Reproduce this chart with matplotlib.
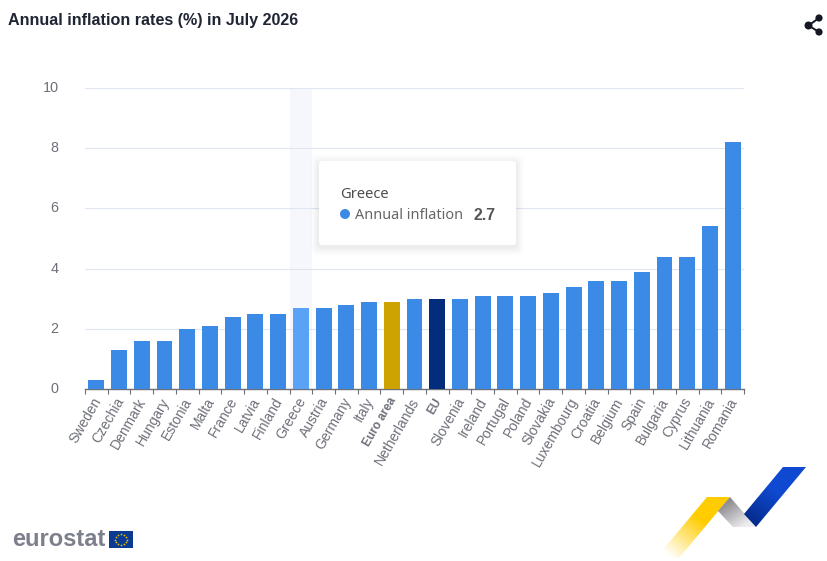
import matplotlib
matplotlib.use('Agg')
import matplotlib.pyplot as plt
import matplotlib.transforms as mtrans
import numpy as np
from matplotlib.patches import FancyBboxPatch, Polygon, Rectangle, Circle

plt.rcParams['font.family'] = ['Liberation Sans', 'DejaVu Sans']

# data
countries = ['Sweden', 'Czechia', 'Denmark', 'Hungary', 'Estonia', 'Malta', 'France', 'Latvia',
             'Finland', 'Greece', 'Austria', 'Germany', 'Italy', 'Euro area', 'Netherlands', 'EU',
             'Slovenia', 'Ireland', 'Portugal', 'Poland', 'Slovakia', 'Luxembourg', 'Croatia',
             'Belgium', 'Spain', 'Bulgaria', 'Cyprus', 'Lithuania', 'Romania']
inflation = [0.3, 1.3, 1.6, 1.6, 2.0, 2.1, 2.4, 2.5, 2.5, 2.7, 2.7, 2.8, 2.9, 2.9, 3.0, 3.0,
             3.0, 3.1, 3.1, 3.1, 3.2, 3.4, 3.6, 3.6, 3.9, 4.4, 4.4, 5.4, 8.2]
y_ticks = [0, 2, 4, 6, 8, 10]

BLUE = '#3a8ae6'
colors = {'Greece': '#5aa2f5', 'Euro area': '#cca300', 'EU': '#032c7c'}
TXT = '#6e7079'

W, H = 827, 561
fig = plt.figure(figsize=(W / 100, H / 100), dpi=100, facecolor='white')

# main chart, placed in pixels
L, R, T, B = 85, 744, 88, 389
ax = fig.add_axes([L / W, 1 - B / H, (R - L) / W, (B - T) / H])
x = np.arange(len(countries))
bar_colors = [colors.get(c, BLUE) for c in countries]

ax.axvspan(x[countries.index('Greece')] - 0.5, x[countries.index('Greece')] + 0.5,
           color='#f5f7fc', zorder=0, lw=0)
ax.bar(x, inflation, width=0.7, color=bar_colors, zorder=3)

ax.set_xlim(-0.5, len(countries) - 0.5)
ax.set_ylim(0, 10)
ax.set_yticks(y_ticks)
ax.grid(axis='y', color='#e0e6f1', lw=0.8, zorder=1)
ax.set_axisbelow(True)
for s in ['top', 'left', 'right']:
    ax.spines[s].set_visible(False)
ax.spines['bottom'].set_color('#6e7079')
ax.spines['bottom'].set_linewidth(1.0)
ax.tick_params(axis='y', length=0, labelsize=10.4, labelcolor=TXT, pad=19)
# nudge the y labels up a little
for lbl in ax.get_yticklabels():
    lbl.set_transform(lbl.get_transform() + mtrans.Affine2D().translate(0, 1.5))

# ticks sit between the bars
ax.set_xticks(np.arange(len(countries) + 1) - 0.5)
ax.tick_params(axis='x', length=3.6, width=0.8, color='#6e7079', labelbottom=False)
for xi, name in zip(x, countries):
    bold = name in ('Euro area', 'EU')
    ax.annotate(name, (xi, 0), xycoords=('data', 'axes fraction'), xytext=(1, -7),
                textcoords='offset points', rotation=60, rotation_mode='anchor',
                ha='right', va='center', fontsize=10.0 if not bold else 8.6,
                fontweight='bold' if bold else 'normal', color=TXT)

# overlay in pixel coordinates for title, tooltip, logos
ov = fig.add_axes([0, 0, 1, 1], zorder=5)
ov.set_xlim(0, W)
ov.set_ylim(H, 0)
ov.axis('off')
ov.patch.set_alpha(0)

ov.text(8, 20, 'Annual inflation rates (%) in July 2026', fontsize=11.65, fontweight='bold',
        color='#1f2533', va='center', ha='left')

# share icon
for cx, cy, r in [(808.5, 25.5, 4), (819, 18, 3.6), (819, 32, 3.6)]:
    ov.add_patch(Circle((cx, cy), r, color='#141824', lw=0))
ov.plot([819, 808.5, 819], [18, 25.5, 32], color='#141824', lw=1.4)

# tooltip
for off, a in [(8, 0.012), (6, 0.015), (4, 0.02), (2, 0.025)]:
    ov.add_patch(FancyBboxPatch((319 - off, 161 - off + 2), 197 + 2 * off, 84 + 2 * off,
                                boxstyle='round,pad=0,rounding_size=6', fc='black', ec='none', alpha=a))
ov.add_patch(FancyBboxPatch((319, 161), 197, 84, boxstyle='round,pad=0,rounding_size=3',
                            fc='white', ec='none'))
ov.text(340, 194, 'Greece', fontsize=10.6, color='#4d4d4d', va='center', family='Noto Sans')
ov.add_patch(Circle((345, 214), 5, color=BLUE, lw=0))
ov.text(355, 215, 'Annual inflation', fontsize=10.4, color='#666666', va='center', family='Noto Sans')
ov.text(473, 215, '2.7', fontsize=11.4, color='#555555', va='center', fontweight='bold',
        family='Liberation Sans')

# eurostat wordmark and flag
ov.text(12, 540, 'eurostat', fontsize=17, fontweight='bold', color='#7d808c', va='center', ha='left',
        family='Liberation Sans')
ov.add_patch(Rectangle((109, 531), 24, 17, fc='#0a3a94', ec='none'))
ang = np.arange(12) * np.pi / 6
ov.scatter(121 + 5.6 * np.cos(ang), 539.5 + 5.6 * np.sin(ang), s=1.5, color='#f2c800', lw=0)


def gradient_poly(pts, c0, c1, p0, p1):
    # fill a polygon with a linear gradient running from p0 to p1
    gx, gy = np.meshgrid(np.linspace(640, 827, 374), np.linspace(450, 561, 222))
    d = np.array(p1, float) - np.array(p0, float)
    t = np.clip(((gx - p0[0]) * d[0] + (gy - p0[1]) * d[1]) / (d @ d), 0, 1)[..., None]
    img = np.array(c0)[None, None, :] * (1 - t) + np.array(c1)[None, None, :] * t
    im = ov.imshow(img, extent=(640, 827, 561, 450), origin='upper', aspect='auto',
                   interpolation='bilinear', zorder=2)
    poly = Polygon(pts, transform=ov.transData, fc='none', ec='none')
    ov.add_patch(poly)
    im.set_clip_path(poly)


# corner logo ribbon
gradient_poly([(707, 497), (730, 497), (679, 558), (656, 558)],
              (1, 0.8, 0, 1), (1, 0.8, 0, 0), (695, 515), (665, 553))
gradient_poly([(730, 497), (756, 527), (733, 527), (718, 511)],
              (0.55, 0.55, 0.57, 1), (0.93, 0.93, 0.94, 1), (726, 503), (742, 527))
gradient_poly([(783, 467), (806, 467), (756, 527), (744, 514)],
              (0.06, 0.29, 0.82, 1), (0.02, 0.17, 0.55, 1), (775, 490), (752, 522))
ov.set_xlim(0, W)
ov.set_ylim(H, 0)

fig.savefig('out.png', dpi=100)
